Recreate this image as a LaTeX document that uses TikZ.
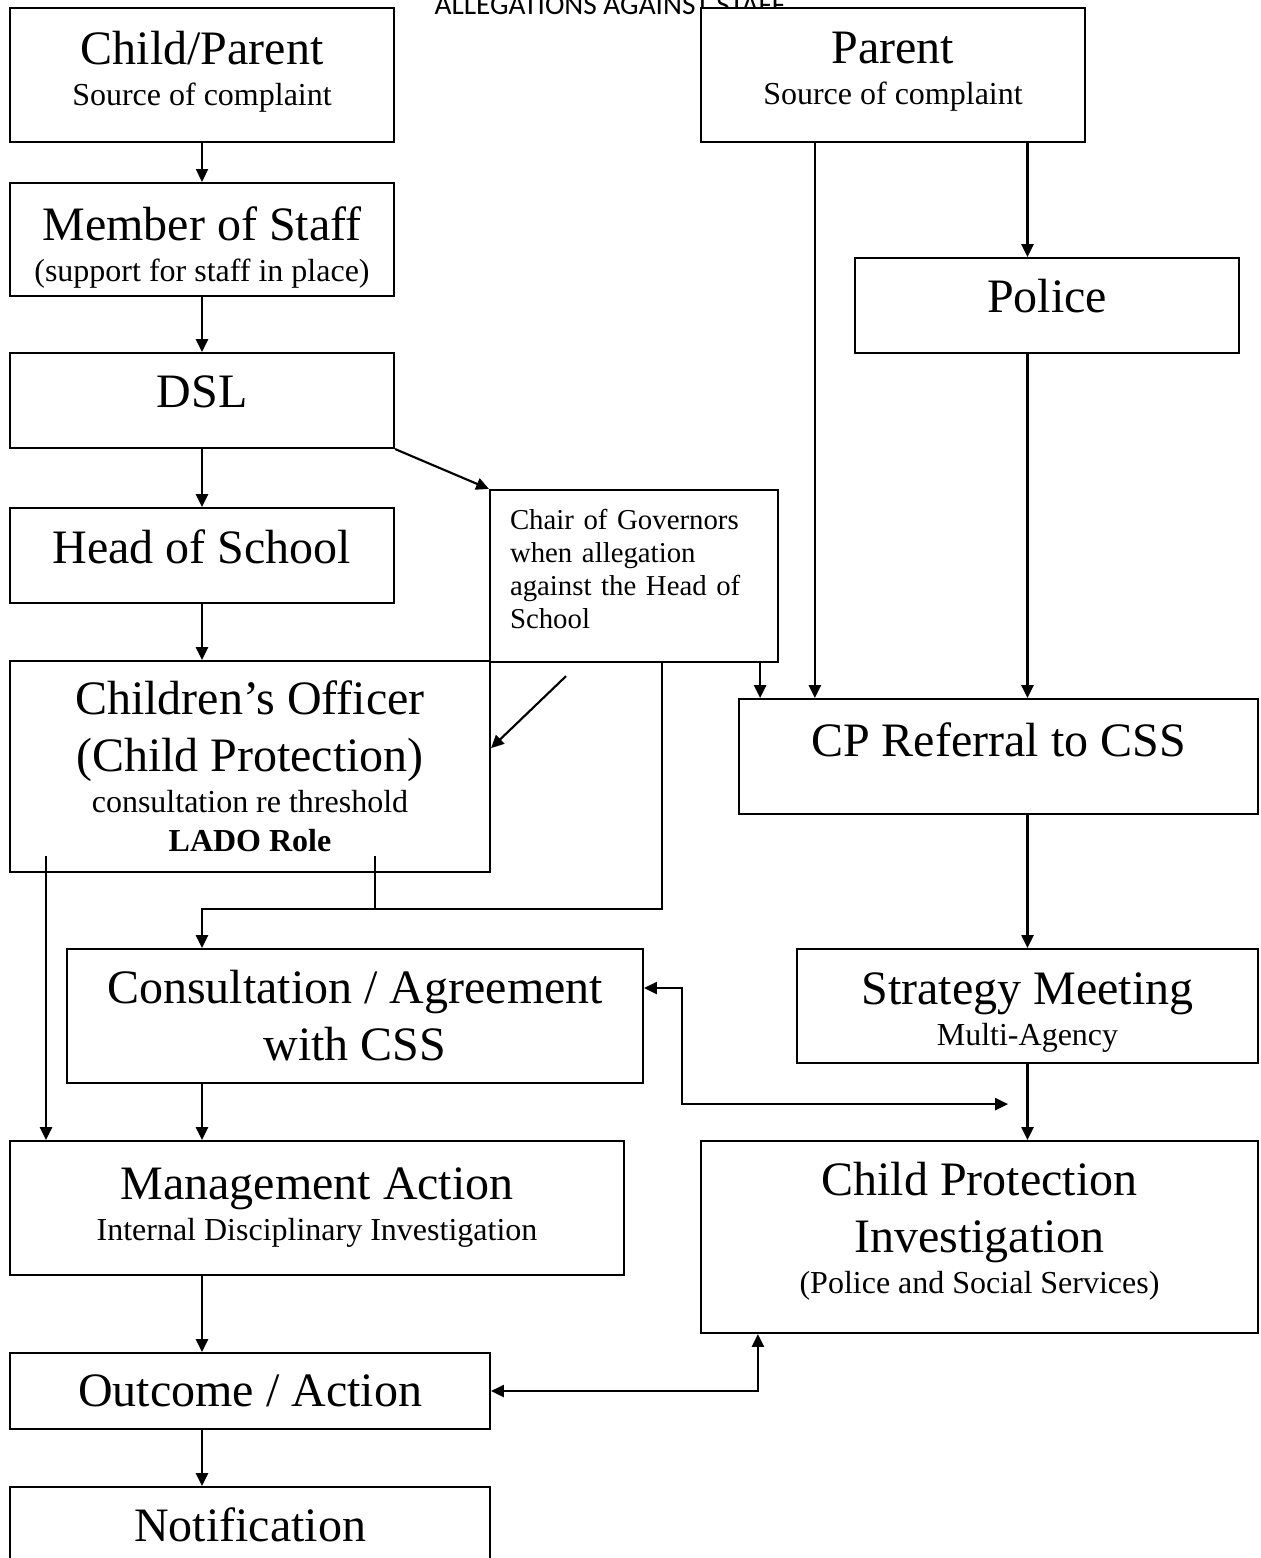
\documentclass[tikz,border=0pt]{standalone}
\usepackage{fontspec}
\setmainfont{Liberation Serif}
\newfontfamily\titlefont{Carlito}
\usetikzlibrary{arrows.meta,calc}

\newcommand{\bigtxt}{\fontsize{18}{21.4}\selectfont}
\newcommand{\smalltxt}{\fontsize{12}{15.4}\selectfont}

\begin{document}
\begin{tikzpicture}[x=0.375pt,y=-0.375pt,
    box/.style={draw, line width=0.8pt, fill=white, align=center, inner sep=0pt, font=\bigtxt},
    arr/.style={line width=0.8pt, -{Triangle[length=4.8pt,width=4.5pt]}},
    darr/.style={line width=0.8pt, {Triangle[length=4.8pt,width=4.5pt]}-{Triangle[length=4.8pt,width=4.5pt]}},
    link/.style={line width=0.8pt}]

  \useasboundingbox (0,0) rectangle (1261,1558);

  % Title
  \node[font={\titlefont\fontsize{11}{13}\selectfont}, anchor=base] (title) at (610,14) {ALLEGATIONS AGAINST STAFF};

  % Sources
  \node[box, minimum width=144pt, minimum height=50.25pt, text depth=5pt] (child) at (202,75) {Child/Parent\\[-6pt]\smalltxt Source of complaint};
  \node[box, minimum width=144pt, minimum height=50.25pt, text depth=5pt] (parent) at (893,75) {Parent\\[-6pt]\smalltxt Source of complaint};

  % School side
  \node[box, minimum width=144pt, minimum height=42.4pt, text height=34.3pt] (staff) at (202,239.5) {Member of Staff\\[-6pt]\smalltxt (support for staff in place)};
  \node[box, minimum width=144pt, minimum height=35.6pt, text depth=6.4pt] (dsl) at (202,400.5) {DSL};
  \node[box, minimum width=144pt, minimum height=35.6pt, text depth=7pt] (head) at (202,555.5) {Head of School};
  \node[box, minimum width=108pt, minimum height=64.5pt, inner xsep=7.5pt, text width=93pt, align=left,
        text depth=42.4pt, font=\fontsize{10.8}{12.4}\selectfont] (chair) at (634,576) {Chair of Governors\\when allegation\\against the Head of\\School};
  \node[box, minimum width=180pt, minimum height=79.1pt] (cpo) at (250,766.5) {Children’s Officer\\(Child Protection)\\[-6pt]\smalltxt consultation re threshold\\[-6.8pt]\smalltxt\bfseries LADO Role};

  % Police side
  \node[box, minimum width=144pt, minimum height=35.6pt, text depth=7pt] (police) at (1047,305.5) {Police};
  \node[box, minimum width=194.6pt, minimum height=43.1pt, text depth=12.8pt] (referral) at (998.5,756.5) {CP Referral to CSS};
  \node[box, minimum width=172.9pt, minimum height=42.75pt, text height=32.1pt] (strategy) at (1027.5,1006) {Strategy Meeting\\[-6pt]\smalltxt Multi-Agency};
  \node[box, minimum width=208.9pt, minimum height=72pt, text depth=6.6pt] (cpi) at (979.5,1237) {Child Protection\\Investigation\\[-6pt]\smalltxt (Police and Social Services)};

  % Lower left
  \node[box, minimum width=216pt, minimum height=50.25pt] (consult) at (355,1016) {Consultation / Agreement\\with CSS};
  \node[box, minimum width=230.25pt, minimum height=50.25pt] (mgmt) at (317,1208) {Management Action\\[-6pt]\smalltxt Internal Disciplinary Investigation};
  \node[box, minimum width=180pt, minimum height=28.5pt] (outcome) at (250,1391) {Outcome / Action};
  \node[box, minimum width=180pt, minimum height=28.5pt] (notif) at (250,1525) {Notification};

  % Helper points
  \coordinate (lado) at ($(cpo.south west)+(13.9pt,6.4pt)$);
  \coordinate (cpoout) at ($(cpo.south east)+(-43.5pt,6.4pt)$);
  \coordinate (merge) at ($(chair.south |- consult.north)+(10.5pt,14.6pt)$);
  \coordinate (chairout) at ($(chair.south west)+(28.9pt,-4.9pt)$);
  \coordinate (chairdown) at ([xshift=-7.1pt]chair.south east);
  \coordinate (parentdown) at ([xshift=43.1pt]parent.south west);
  \coordinate (meet) at ($(strategy.south)+(-7.3pt,-15pt)$);
  \coordinate (cpiup) at ([xshift=21.75pt]cpi.south west);

  % Edges
  \draw[arr] (child) -- (staff);
  \draw[arr] (staff) -- (dsl);
  \draw[arr] (dsl) -- (head);
  \draw[arr] (head.south) -- (head.south |- cpo.north);
  \draw[arr] (dsl.south east) -- (chair.north west);
  \draw[arr] (chairout) -- ([yshift=6.9pt]cpo.east);
  \draw[arr] (chairdown) -- (chairdown |- referral.north);
  \draw[arr] (merge |- chair.south) -- (merge) -| (consult.north -| child);
  \draw[link] (cpoout) -- (cpoout |- merge);
  \draw[arr] (lado) -- (lado |- mgmt.north);

  \draw[arr] (parentdown) -- (parentdown |- referral.north);
  \draw[arr] (parent.south -| strategy) -- (police.north -| strategy);
  \draw[arr] (police.south -| strategy) -- (referral.north -| strategy);
  \draw[arr] (referral.south -| strategy) -- (strategy.north);
  \draw[arr] (strategy.south) -- (strategy.south |- cpi.north);

  \draw[darr] ([yshift=10.5pt]consult.east) -- ++(14.25pt,0) |- (meet);
  \draw[arr] (consult.south -| child) -- (mgmt.north -| child);
  \draw[arr] (mgmt.south -| child) -- (outcome.north -| child);
  \draw[arr] (outcome.south -| child) -- (notif.north -| child);
  \draw[darr] (outcome.east) -| (cpiup);

\end{tikzpicture}
\end{document}
